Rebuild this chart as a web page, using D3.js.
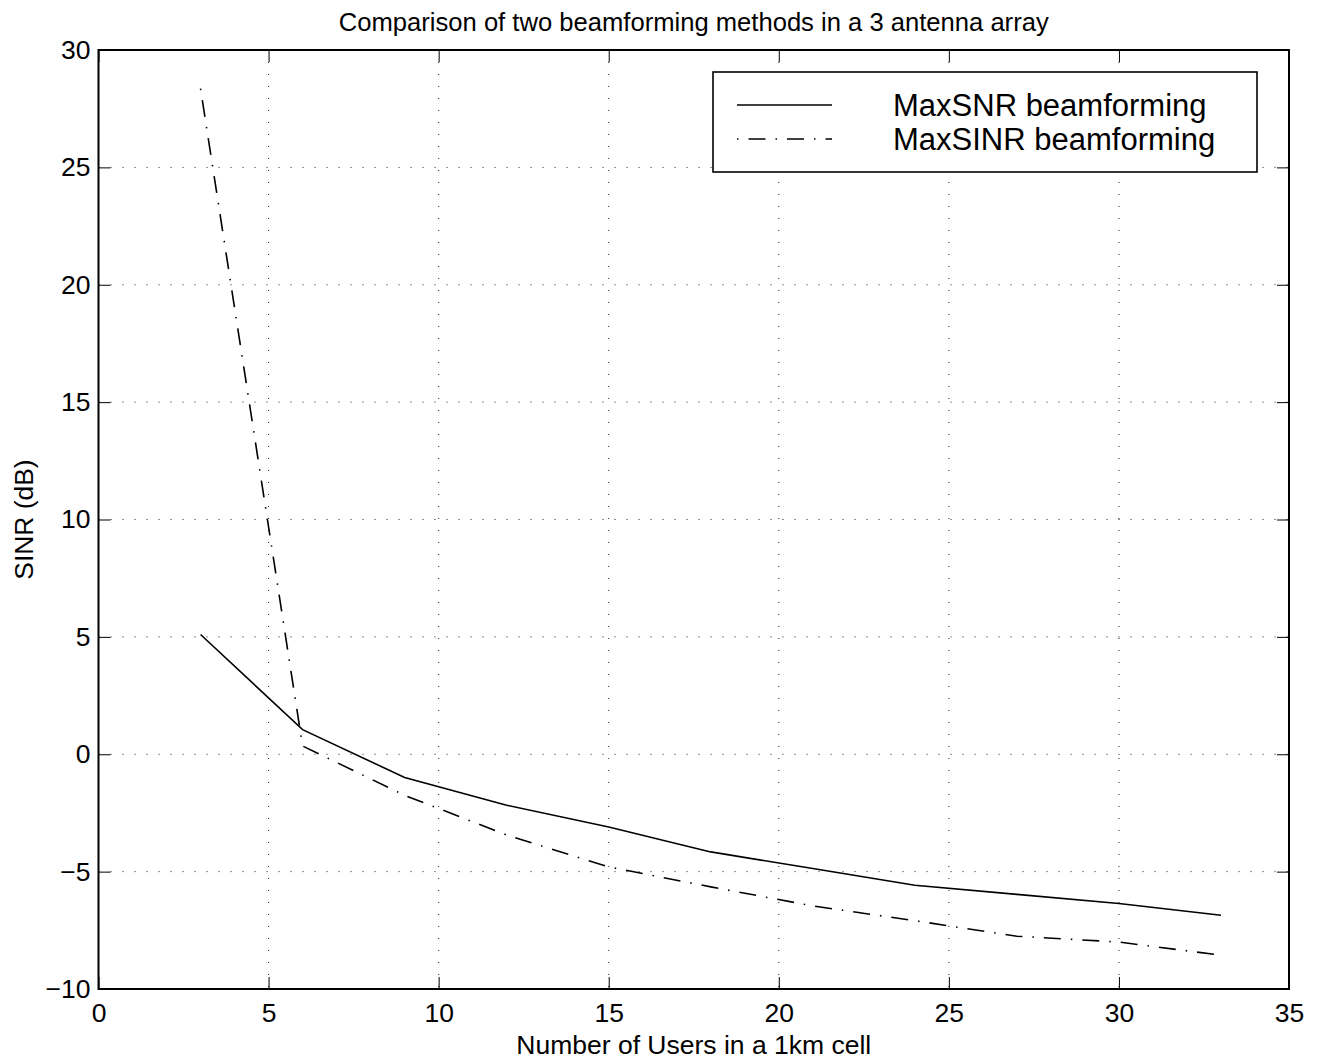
<!DOCTYPE html>
<html>
<head>
<meta charset="utf-8">
<script src="https://cdn.jsdelivr.net/npm/d3@7"></script>
<style>
  body { margin: 0; background: #fff; }
  svg text { font-family: "Liberation Sans", Arial, Helvetica, sans-serif; fill: #000; }
</style>
</head>
<body>
<div id="chart"></div>
<script>
// data
const users = [3, 6, 9, 12, 15, 18, 21, 24, 27, 30, 33];
const maxSnr = [5.1, 1.05, -0.99, -2.17, -3.1, -4.16, -4.87, -5.58, -5.97, -6.36, -6.86];
const maxSinr = [28.35, 0.35, -1.75, -3.44, -4.8, -5.65, -6.46, -7.09, -7.75, -8.0, -8.56];
const xTicks = [0, 5, 10, 15, 20, 25, 30, 35];
const yTicks = [-10, -5, 0, 5, 10, 15, 20, 25, 30];
const seriesNames = ["MaxSNR beamforming", "MaxSINR beamforming"];

const size = { width: 1325, height: 1061 };
const margin = { left: 98.5, top: 50, right: 36, bottom: 72 };
const axis = {
  width: size.width - margin.left - margin.right,
  height: size.height - margin.top - margin.bottom
};
const tickLen = 12;
const dashDot = "17,10,1.5,10";
const dashStart = 27; // start the pattern on the dot

const svg = d3.select("#chart").append("svg")
  .attr("width", size.width)
  .attr("height", size.height);

const x = d3.scaleLinear().domain([0, 35]).range([0, axis.width]);
const y = d3.scaleLinear().domain([-10, 30]).range([axis.height, 0]);

const g = svg.append("g")
  .attr("transform", `translate(${margin.left},${margin.top})`);

// dotted grid
g.selectAll("line.vgrid")
  .data(xTicks.slice(1, -1))
  .enter().append("line")
  .attr("class", "vgrid")
  .attr("x1", d => x(d)).attr("x2", d => x(d))
  .attr("y1", 0).attr("y2", axis.height)
  .attr("stroke", "#222").attr("stroke-width", 1)
  .attr("stroke-dasharray", "1,11");
g.selectAll("line.hgrid")
  .data(yTicks.slice(1, -1))
  .enter().append("line")
  .attr("class", "hgrid")
  .attr("x1", 0).attr("x2", axis.width)
  .attr("y1", d => y(d)).attr("y2", d => y(d))
  .attr("stroke", "#222").attr("stroke-width", 1)
  .attr("stroke-dasharray", "1,11");

// axes: ticks inward on all four sides
const xBottom = d3.axisBottom(x).tickValues(xTicks).tickSize(-tickLen).tickPadding(14);
const xTop = d3.axisTop(x).tickValues(xTicks).tickSize(-tickLen).tickFormat("");
const yLeft = d3.axisLeft(y).tickValues(yTicks).tickSize(-tickLen).tickPadding(8)
  .tickFormat(d => d < 0 ? "\u2212" + Math.abs(d) : d);
const yRight = d3.axisRight(y).tickValues(yTicks).tickSize(-tickLen).tickFormat("");

g.append("g").attr("transform", `translate(0,${axis.height})`).call(xBottom);
g.append("g").call(xTop);
g.append("g").call(yLeft);
g.append("g").attr("transform", `translate(${axis.width},0)`).call(yRight);

g.selectAll(".domain").remove();
g.selectAll(".tick line").attr("stroke", "#000").attr("stroke-width", 1);
g.selectAll(".tick text")
  .style("font-size", "26.5px")
  .style("font-family", "'Liberation Sans', Arial, Helvetica, sans-serif")
  .attr("fill", "#000");

g.append("rect")
  .attr("width", axis.width).attr("height", axis.height)
  .attr("fill", "none").attr("stroke", "#000").attr("stroke-width", 2);

// series
const line = d3.line()
  .x((d, i) => x(users[i]))
  .y(d => y(d));

g.append("path")
  .datum(maxSnr)
  .attr("d", line)
  .attr("fill", "none").attr("stroke", "#000").attr("stroke-width", 1.6);

g.append("path")
  .datum(maxSinr)
  .attr("d", line)
  .attr("fill", "none").attr("stroke", "#000").attr("stroke-width", 1.6)
  .attr("stroke-dasharray", dashDot)
  .attr("stroke-dashoffset", dashStart);

// labels
svg.append("text")
  .attr("x", margin.left + axis.width / 2).attr("y", 31)
  .attr("text-anchor", "middle")
  .style("font-size", "25.6px")
  .text("Comparison of two beamforming methods in a 3 antenna array");

svg.append("text")
  .attr("x", margin.left + axis.width / 2).attr("y", 1054)
  .attr("text-anchor", "middle")
  .style("font-size", "26.5px")
  .text("Number of Users in a 1km cell");

svg.append("text")
  .attr("transform", `translate(33,${margin.top + axis.height / 2})rotate(-90)`)
  .attr("text-anchor", "middle")
  .style("font-size", "26.4px")
  .text("SINR (dB)");

// legend
const legend = svg.append("g").attr("transform", "translate(713,72)");
legend.append("rect")
  .attr("width", 544).attr("height", 100)
  .attr("fill", "#fff").attr("stroke", "#000").attr("stroke-width", 1.6);

const styles = [null, dashDot];
seriesNames.forEach((name, i) => {
  const row = legend.append("g").attr("transform", `translate(0,${33 + i * 34})`);
  row.append("line")
    .attr("x1", 24).attr("x2", 119)
    .attr("y1", 0).attr("y2", 0)
    .attr("stroke", "#000").attr("stroke-width", 1.6)
    .attr("stroke-dasharray", styles[i])
    .attr("stroke-dashoffset", styles[i] ? dashStart : null);
  row.append("text")
    .attr("x", 180).attr("y", 11)
    .style("font-size", "31px")
    .text(name);
});
</script>
</body>
</html>
